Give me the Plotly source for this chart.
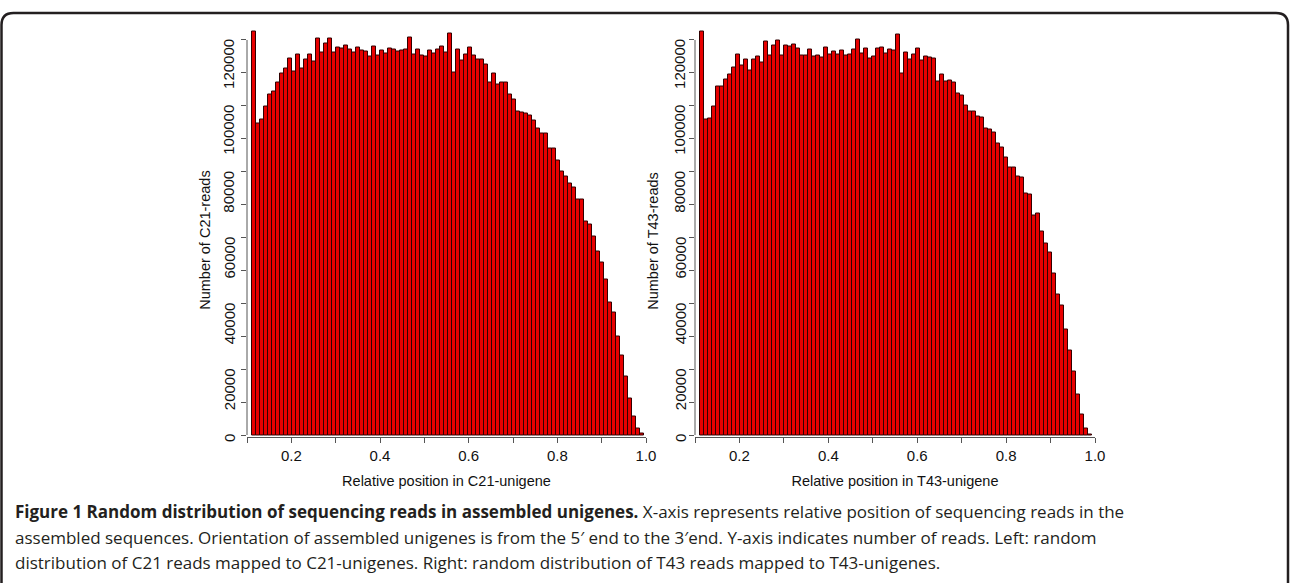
import numpy as np
import plotly.graph_objects as go

# reads per bin along the unigene (98 equal bins each)
c21_bin_start, c21_bin_end = 0.110421, 0.994636
c21_counts = [
    122500, 94700, 95700, 99700, 103300, 104300, 107000, 109900, 111400, 114400,
    110400, 115600, 111400, 114100, 115600, 113600, 120300, 116300, 119000, 120300,
    116300, 117700, 117500, 118300, 117000, 116300, 117700, 116700, 116500,
    115100, 118000, 115400, 116700, 115900, 117500, 117000, 116500, 116700, 117000,
    120800, 115600, 117000, 115400, 115100, 116700, 115900, 117000, 118000, 116300,
    122000, 110100, 117000, 113900, 115600, 117700, 115200, 114200, 114200, 112400,
    107000, 109900, 106500, 107000, 107000, 103300, 101800, 98400, 98000, 97700,
    97200, 95400, 93000, 91600, 91600, 87100, 86900, 83500, 80000, 78500,
    76400, 75100, 71400, 71400, 64800, 64000, 60200, 55700, 52400, 47100,
    40400, 37200, 29900, 24300, 17700, 11200, 5600, 2100, 400,
]

t43_bin_start, t43_bin_end = 0.111798, 0.992697
t43_counts = [
    122700, 95700, 96200, 99700, 106000, 106000, 108100, 109600, 111600, 115700,
    112100, 114200, 110600, 114100, 115100, 113200, 119500, 115400, 118300, 119700,
    115400, 118300, 118000, 118700, 117300, 115400, 115400, 117000, 114900, 115400,
    114600, 117700, 115600, 116500, 115600, 116700, 115200, 115600, 117000, 120000,
    115900, 117300, 114400, 115100, 117300, 117700, 115900, 117000, 116700, 121800,
    109900, 116300, 114200, 115600, 117500, 113900, 115100, 114700, 114400,
    107500, 109400, 107300, 107800, 107100, 103800, 103100, 100000, 98400, 98400,
    96900, 96400, 93200, 92900, 91800, 88400, 87400, 84300, 81300, 81300,
    78500, 78300, 73400, 73100, 66800, 67300, 61800, 58200, 55400, 49200,
    42800, 39200, 32200, 25600, 19200, 12400, 6300, 2000, 300,
]

x_tick_vals = [0.1, 0.2, 0.3, 0.4, 0.5, 0.6, 0.7, 0.8, 0.9, 1.0]
x_tick_text = ["", "0.2", "", "0.4", "", "0.6", "", "0.8", "", "1.0"]
y_tick_vals = [0, 10000, 20000, 30000, 40000, 50000, 60000, 70000, 80000, 90000, 100000, 110000, 120000]
y_label_vals = [0, 20000, 40000, 60000, 80000, 100000, 120000]

panels = [
    ("C21", c21_bin_start, c21_bin_end, c21_counts),
    ("T43", t43_bin_start, t43_bin_end, t43_counts),
]

W, H = 1290, 583
BAR_RED = "#e80000"
AXIS_GREY = "#555555"
TEXT = "#111111"
PLOT_FONT = "Liberation Sans, Arial, sans-serif"


def px(x):
    return x / W


def py(y):
    return 1 - y / H


fig = go.Figure()

# pixel extents of the two plotting regions (left edge = 0.1, right edge = 1.0)
x_domains = [(px(247), px(646)), (px(695), px(1095))]
y_domain = [py(437), py(23.5)]

annotations = []
shapes = []
for k, (name, b0, b1, counts) in enumerate(panels):
    n = len(counts)
    edges = np.linspace(b0, b1, n + 1)
    centers = (edges[:-1] + edges[1:]) / 2
    xa = "x" if k == 0 else "x2"
    ya = "y" if k == 0 else "y2"
    fig.add_trace(go.Bar(
        x=centers, y=counts, width=edges[1] - edges[0],
        marker=dict(color=BAR_RED, line=dict(color="#300000", width=1)),
        xaxis=xa, yaxis=ya, showlegend=False,
        name=f"{name} reads",
    ))

    ax_suffix = "" if k == 0 else "2"
    fig.update_layout(**{
        f"xaxis{ax_suffix}": dict(
            domain=list(x_domains[k]), range=[0.1, 1.0], anchor=ya,
            tickvals=x_tick_vals, ticktext=x_tick_text,
            ticks="outside", ticklen=5, tickcolor=AXIS_GREY,
            showline=True, linecolor=AXIS_GREY, linewidth=1,
            showgrid=False, zeroline=False,
            tickfont=dict(family=PLOT_FONT, size=15, color=TEXT),
            title=dict(text=f"Relative position in {name}-unigene",
                       font=dict(family=PLOT_FONT, size=14.5, color=TEXT), standoff=12),
            automargin=False,
        ),
        f"yaxis{ax_suffix}": dict(
            domain=y_domain, range=[-600, 125000], anchor=xa,
            tickvals=y_tick_vals, ticks="outside", ticklen=5, tickcolor=AXIS_GREY,
            showticklabels=False, showline=False, showgrid=False, zeroline=False,
            automargin=False,
        ),
    })

    # R-style y axis line running only between the first and last tick
    shapes.append(dict(type="line", xref=f"{xa} domain", yref=ya,
                       x0=0, x1=0, y0=0, y1=120000,
                       line=dict(color=AXIS_GREY, width=1)))

    label_gap = -18 if k == 0 else -15
    for v in y_label_vals:
        annotations.append(dict(
            text=str(v), xref=f"{xa} domain", x=0, xshift=label_gap, xanchor="center",
            yref=ya, y=v, yanchor="top", yshift=3, textangle=-90, showarrow=False,
            font=dict(family=PLOT_FONT, size=15, color=TEXT),
        ))
    annotations.append(dict(
        text=f"Number of {name}-reads", xref=f"{xa} domain", x=0, xshift=-42,
        xanchor="center", yref=ya, y=59000, yanchor="middle", textangle=-90,
        showarrow=False, font=dict(family=PLOT_FONT, size=14.5, color=TEXT),
    ))

caption_lines = [
    "<b>Figure 1 Random distribution of sequencing reads in assembled unigenes.</b> "
    "X-axis represents relative position of sequencing reads in the",
    "assembled sequences. Orientation of assembled unigenes is from the 5′ end to the 3′end. "
    "Y-axis indicates number of reads. Left: random",
    "distribution of C21 reads mapped to C21-unigenes. Right: random distribution of T43 reads "
    "mapped to T43-unigenes.",
]
for j, line in enumerate(caption_lines):
    annotations.append(dict(
        text=line, xref="paper", yref="paper", x=px(13), y=py(511.5 + 25.5 * j),
        xanchor="left", yanchor="middle", showarrow=False, align="left",
        font=dict(family="Open Sans, sans-serif", size=17, color="#231f20"),
    ))

# figure frame with rounded top corners, open at the bottom
r = 12
top, left, right, bottom = 13, 1.5, 1288, 590
frame = (f"M {px(left)},{py(bottom)} L {px(left)},{py(top + r)} "
         f"Q {px(left)},{py(top)} {px(left + r)},{py(top)} "
         f"L {px(right - r)},{py(top)} "
         f"Q {px(right)},{py(top)} {px(right)},{py(top + r)} "
         f"L {px(right)},{py(bottom)}")
shapes.append(dict(type="path", xref="paper", yref="paper", path=frame,
                   line=dict(color="#231f20", width=2.5)))

fig.update_layout(
    width=W, height=H,
    margin=dict(l=0, r=0, t=0, b=0),
    paper_bgcolor="white", plot_bgcolor="white",
    bargap=0,
    annotations=annotations,
    shapes=shapes,
)

fig.write_html("out.html", config={"displayModeBar": False},
               post_script="document.body.style.margin='0';")
